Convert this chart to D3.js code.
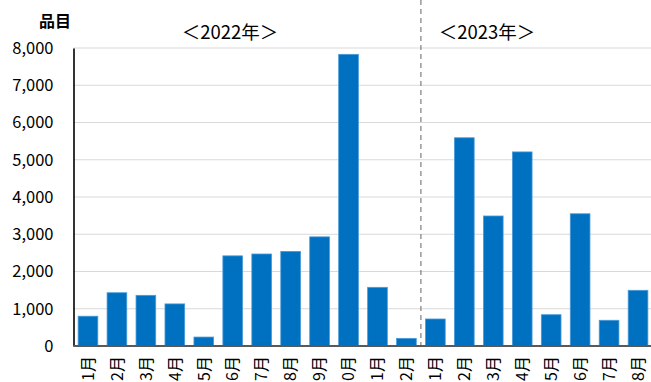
<!DOCTYPE html>
<html>
<head>
<meta charset="utf-8">
<script src="https://cdn.jsdelivr.net/npm/d3@7"></script>
<style>
  html, body { margin: 0; padding: 0; background: #fff; }
  svg { display: block; font-family: "Noto Sans CJK JP", "Noto Sans", sans-serif; }
</style>
</head>
<body>
<svg id="chart" width="651" height="382"></svg>
<script>
// Monthly item counts, Jan 2022 – Aug 2023
const months = ["1月","2月","3月","4月","5月","6月","7月","8月","9月","10月","11月","12月",
                "1月","2月","3月","4月","5月","6月","7月","8月"];
const years  = [2022,2022,2022,2022,2022,2022,2022,2022,2022,2022,2022,2022,
                2023,2023,2023,2023,2023,2023,2023,2023];
const counts = [800, 1430, 1360, 1130, 240, 2420, 2470, 2540, 2930, 7830, 1575, 205,
                725, 5590, 3490, 5210, 840, 3550, 690, 1495];
const yTicks = [0, 1000, 2000, 3000, 4000, 5000, 6000, 7000, 8000];
const yearTitles = ["＜2022年＞", "＜2023年＞"];
const unitLabel = "品目";

const data = months.map((m, i) => ({ key: i, month: m, year: years[i], value: counts[i] }));

const svg = d3.select("#chart");
const W = 651, H = 382;
const plotLeft = 73.5, plotRight = 652.5, plotTop = 48, plotBottom = 346;

const x = d3.scaleBand().domain(data.map(d => d.key)).range([plotLeft, plotRight]).paddingInner(0.32).paddingOuter(0.16);
const y = d3.scaleLinear().domain([0, 8000]).range([plotBottom, plotTop]);

// horizontal gridlines
svg.append("g")
  .selectAll("line")
  .data(yTicks.filter(t => t > 0))
  .join("line")
  .attr("x1", plotLeft).attr("x2", W)
  .attr("y1", d => y(d)).attr("y2", d => y(d))
  .attr("stroke", "#d9d9d9").attr("stroke-width", 1);

// bars
svg.append("g")
  .selectAll("rect")
  .data(data)
  .join("rect")
  .attr("x", d => x(d.key))
  .attr("width", x.bandwidth())
  .attr("y", d => y(d.value))
  .attr("height", d => y(0) - y(d.value))
  .attr("fill", "#0070c0")
  .attr("stroke", "#4a9ad8")
  .attr("stroke-width", 0.8);

// divider between years
const firstOf2023 = data.find(d => d.year === 2023).key;
const divX = x(firstOf2023) - x.step() * x.paddingInner() / 2;
svg.append("line")
  .attr("x1", divX).attr("x2", divX)
  .attr("y1", 0).attr("y2", plotBottom)
  .attr("stroke", "#7f7f7f").attr("stroke-width", 1.2)
  .attr("stroke-dasharray", "5,4");

// y axis
const yAxis = d3.axisLeft(y).tickValues(yTicks).tickSize(0).tickPadding(20)
  .tickFormat(d3.format(","));
const gy = svg.append("g").attr("transform", `translate(${plotLeft},0)`).call(yAxis);
gy.select(".domain").attr("stroke", "#000").attr("stroke-width", 1.6);
gy.selectAll("text").attr("font-size", 16.5).attr("fill", "#000")
  .attr("font-family", "'Noto Sans CJK JP', sans-serif");

// baseline
svg.append("line")
  .attr("x1", plotLeft).attr("x2", W)
  .attr("y1", plotBottom).attr("y2", plotBottom)
  .attr("stroke", "#595959").attr("stroke-width", 2);

// month labels, rotated
svg.append("g")
  .selectAll("text")
  .data(data)
  .join("text")
  .attr("transform", d => `translate(${x(d.key) + x.bandwidth() / 2},356) rotate(-90)`)
  .attr("text-anchor", "end")
  .attr("dy", "0.36em")
  .attr("font-size", 16)
  .attr("fill", "#000")
  .text(d => d.month);

// unit label
svg.append("text")
  .attr("x", 55).attr("y", 27)
  .attr("text-anchor", "middle")
  .attr("font-size", 16).attr("font-weight", "bold")
  .attr("fill", "#000")
  .text(unitLabel);

// year headings
svg.append("text")
  .attr("x", 230).attr("y", 38.5)
  .attr("text-anchor", "middle").attr("font-size", 18.5).attr("fill", "#000")
  .text(yearTitles[0]);
svg.append("text")
  .attr("x", 487).attr("y", 38.5)
  .attr("text-anchor", "middle").attr("font-size", 18.5).attr("fill", "#000")
  .text(yearTitles[1]);
</script>
</body>
</html>
